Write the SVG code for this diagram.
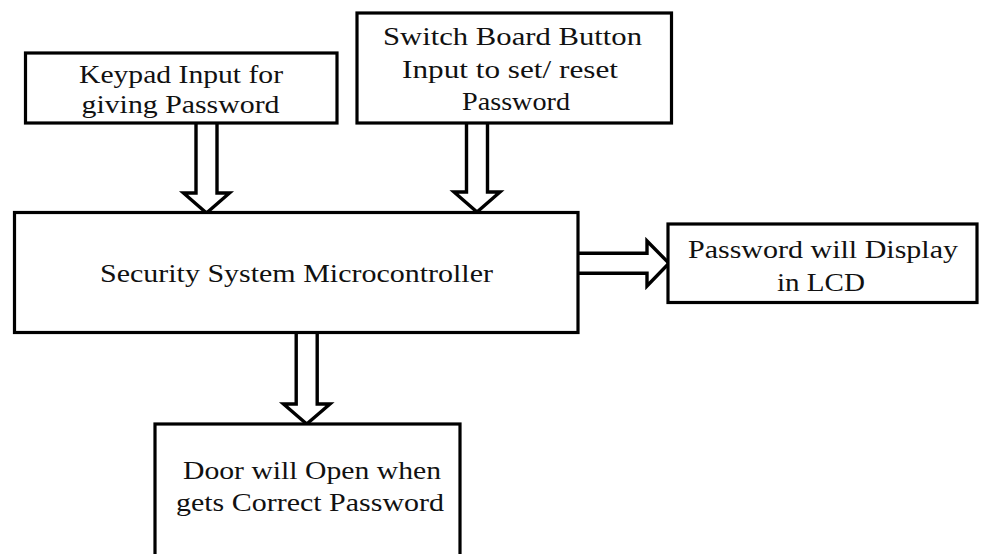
<svg xmlns="http://www.w3.org/2000/svg" width="981" height="554" viewBox="0 0 981 554">
  <style>
    .box { fill: #ffffff; stroke: #000000; stroke-width: 3.2; }
    .arrow { fill: #ffffff; stroke: #000000; stroke-width: 3.4; stroke-linejoin: miter; stroke-miterlimit: 10; }
    text { font-size: 26px; fill: #111111; text-anchor: middle; }
  </style>
  <rect width="981" height="554" fill="#ffffff"/>

  <!-- hollow block arrows -->
  <g id="connectors">
    <path class="arrow" d="M196,123 V193 H183.5 L206.5,213 L229.5,193 H217 V123"/>
    <path class="arrow" d="M466.5,123 V192 H454 L477,212 L500,192 H487.5 V123"/>
    <path class="arrow" d="M578,253.3 H647 V241 L669,263.3 L647,286 V273.3 H578"/>
    <path class="arrow" d="M296.2,332.5 V404 H283.5 L306.7,424 L330,404 H317.2 V332.5"/>
  </g>

  <g font-family="Liberation Serif, serif">
    <g id="keypad">
      <rect class="box" x="25.5" y="53" width="311.5" height="70"/>
      <text x="181" y="83" textLength="204" lengthAdjust="spacingAndGlyphs">Keypad Input for</text>
      <text x="180.5" y="113" textLength="198" lengthAdjust="spacingAndGlyphs">giving Password</text>
    </g>

    <g id="switch-board">
      <rect class="box" x="357" y="13" width="314.5" height="110"/>
      <text x="512.5" y="44.5" textLength="259" lengthAdjust="spacingAndGlyphs">Switch Board Button</text>
      <text x="510" y="77.5" textLength="216" lengthAdjust="spacingAndGlyphs">Input to set/ reset</text>
      <text x="516" y="110" textLength="108" lengthAdjust="spacingAndGlyphs">Password</text>
    </g>

    <g id="microcontroller">
      <rect class="box" x="14.5" y="212.5" width="563.5" height="120"/>
      <text x="296.5" y="282" textLength="393" lengthAdjust="spacingAndGlyphs">Security System Microcontroller</text>
    </g>

    <g id="lcd">
      <rect class="box" x="668" y="224" width="309" height="78.5"/>
      <text x="823" y="258" textLength="270" lengthAdjust="spacingAndGlyphs">Password will Display</text>
      <text x="821" y="291" textLength="88" lengthAdjust="spacingAndGlyphs">in LCD</text>
    </g>

    <g id="door">
      <rect class="box" x="155" y="424" width="305" height="140"/>
      <text x="312" y="479" textLength="258" lengthAdjust="spacingAndGlyphs">Door will Open when</text>
      <text x="310" y="511" textLength="268" lengthAdjust="spacingAndGlyphs">gets Correct Password</text>
    </g>
  </g>
</svg>
